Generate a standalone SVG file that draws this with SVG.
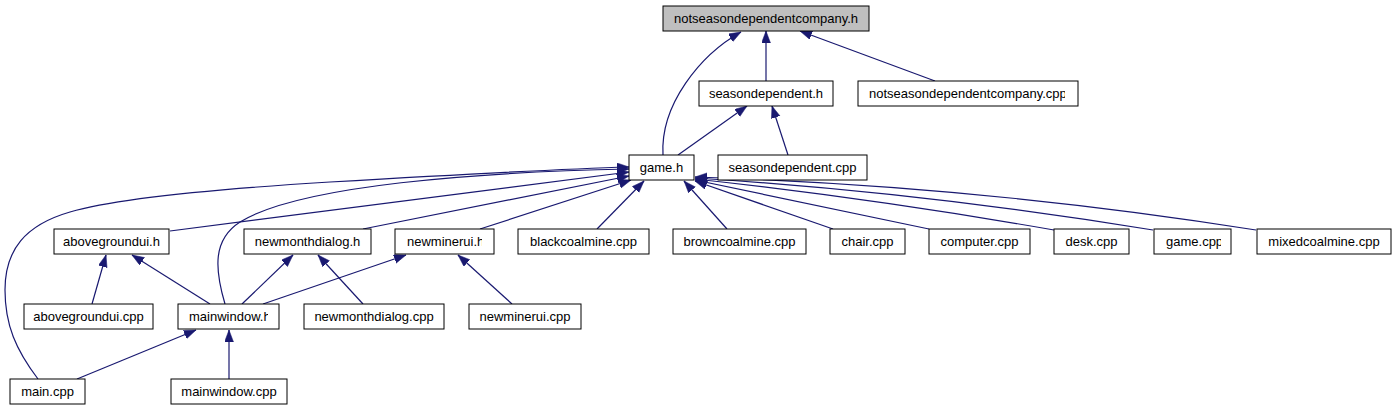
<svg xmlns="http://www.w3.org/2000/svg" width="1396" height="411" viewBox="0 0 1396 411">
<style>
.n rect{fill:#fff;stroke:#000;stroke-width:1}
.n text{font-family:"Liberation Sans",Arial,sans-serif;font-size:13px;fill:#000;text-anchor:middle}
.n text.s{text-anchor:start}
.e path{fill:none;stroke:#191970;stroke-width:1.2;marker-end:url(#arr)}
</style>
<defs>
<marker id="arr" markerWidth="13" markerHeight="10" refX="12" refY="4.5" orient="auto" markerUnits="userSpaceOnUse">
<path d="M0,0 L12,4.5 L0,9 z" fill="#191970" stroke="#191970" stroke-width="0.5"/>
</marker>
<clipPath id="c2"><rect x="858" y="81" width="207" height="25"/></clipPath>
<clipPath id="c7"><rect x="395" y="229" width="87" height="25"/></clipPath>
<clipPath id="c13"><rect x="1154" y="229" width="67" height="25"/></clipPath>
<clipPath id="c16"><rect x="178" y="304" width="90" height="25"/></clipPath>
</defs>
<rect width="1396" height="411" fill="#fff"/>
<g class="e" id="edges">
<path d="M663,155 C660,105 700,55 741,32"/>
<path d="M766,81 L766,31"/>
<path d="M935,81 L800,31"/>
<path d="M678,155 L747,106"/>
<path d="M788,155 L772,106"/>
<path d="M170,231 L629,172"/>
<path d="M363,229 L629,176"/>
<path d="M480,229 L631,180"/>
<path d="M38,379 C16,350 5,325 5,290 C5,250 25,225 70,212 C110,200 200,190 330,182 C450,175 560,169 629,167"/>
<path d="M225,304 C215,270 212,240 240,222 C300,185 480,172 629,169"/>
<path d="M597,229 L644,181"/>
<path d="M727,229 L684,181"/>
<path d="M833,229 L695,181"/>
<path d="M929,229 L695,180"/>
<path d="M1054,230 Q870,198 695,179"/>
<path d="M1153,230 Q920,192 695,178"/>
<path d="M1256,230 Q980,186 695,177"/>
<path d="M92,304 L106,255"/>
<path d="M210,304 L132,255"/>
<path d="M242,304 L293,255"/>
<path d="M363,304 L318,255"/>
<path d="M263,304 L406,255"/>
<path d="M512,304 L458,255"/>
<path d="M77,379 L196,330"/>
<path d="M229,379 L229,330"/>
</g>
<g class="n" id="n0"><rect x="663" y="6" width="206" height="25" style="fill:#bfbfbf"/><text x="766" y="23">notseasondependentcompany.h</text></g>
<g class="n" id="n1"><rect x="699" y="81" width="134" height="25"/><text x="766" y="98">seasondependent.h</text></g>
<g class="n" id="n2"><rect x="858" y="81" width="220" height="25"/><text class="s" x="869" y="98" clip-path="url(#c2)">notseasondependentcompany.cpp</text></g>
<g class="n" id="n3"><rect x="629" y="155" width="65" height="25"/><text x="661.5" y="172">game.h</text></g>
<g class="n" id="n4"><rect x="718" y="155" width="149" height="25"/><text x="792.5" y="172">seasondependent.cpp</text></g>
<g class="n" id="n5"><rect x="54" y="229" width="115" height="25"/><text x="111.5" y="246">abovegroundui.h</text></g>
<g class="n" id="n6"><rect x="244" y="229" width="127" height="25"/><text x="307.5" y="246">newmonthdialog.h</text></g>
<g class="n" id="n7"><rect x="395" y="229" width="99" height="25"/><text class="s" x="407" y="246" clip-path="url(#c7)">newminerui.h</text></g>
<g class="n" id="n8"><rect x="518" y="229" width="131" height="25"/><text x="583.5" y="246">blackcoalmine.cpp</text></g>
<g class="n" id="n9"><rect x="673" y="229" width="133" height="25"/><text x="739.5" y="246">browncoalmine.cpp</text></g>
<g class="n" id="n10"><rect x="830" y="229" width="75" height="25"/><text x="867.5" y="246">chair.cpp</text></g>
<g class="n" id="n11"><rect x="929" y="229" width="101" height="25"/><text x="979.5" y="246">computer.cpp</text></g>
<g class="n" id="n12"><rect x="1054" y="229" width="75" height="25"/><text x="1091.5" y="246">desk.cpp</text></g>
<g class="n" id="n13"><rect x="1154" y="229" width="77" height="25"/><text class="s" x="1166" y="246" clip-path="url(#c13)">game.cpp</text></g>
<g class="n" id="n14"><rect x="1257" y="229" width="134" height="25"/><text x="1324" y="246">mixedcoalmine.cpp</text></g>
<g class="n" id="n15"><rect x="24" y="304" width="129" height="25"/><text x="88.5" y="321">abovegroundui.cpp</text></g>
<g class="n" id="n16"><rect x="178" y="304" width="101" height="25"/><text class="s" x="189" y="321" clip-path="url(#c16)">mainwindow.h</text></g>
<g class="n" id="n17"><rect x="304" y="304" width="140" height="25"/><text x="374" y="321">newmonthdialog.cpp</text></g>
<g class="n" id="n18"><rect x="469" y="304" width="112" height="25"/><text x="525" y="321">newminerui.cpp</text></g>
<g class="n" id="n19"><rect x="10" y="379" width="75" height="25"/><text x="47.5" y="396">main.cpp</text></g>
<g class="n" id="n20"><rect x="171" y="379" width="116" height="25"/><text x="229" y="396">mainwindow.cpp</text></g>
</svg>
